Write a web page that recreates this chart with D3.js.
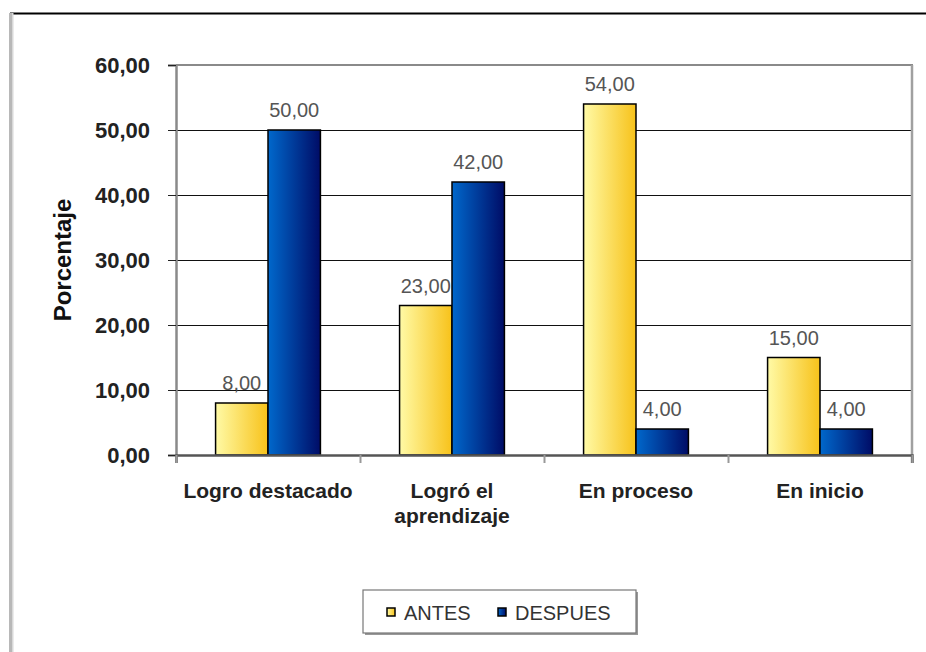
<!DOCTYPE html>
<html><head><meta charset="utf-8">
<script src="https://cdn.jsdelivr.net/npm/d3@7"></script>
<style>body{margin:0;background:#fff;}svg{display:block;font-family:Arial,"Liberation Sans",sans-serif;}</style>
</head><body>
<script>
const categories = [["Logro destacado"], ["Logró el", "aprendizaje"], ["En proceso"], ["En inicio"]];
const series = ["ANTES", "DESPUES"];
const antes = [8, 23, 54, 15];
const despues = [50, 42, 4, 4];
const yTicks = [0, 10, 20, 30, 40, 50, 60];
const yTitle = "Porcentaje";

const W = 926, H = 652;
const svg = d3.select("body").append("svg").attr("width", W).attr("height", H);
const defs = svg.append("defs");
function grad(id, c1, c2) {
  const g = defs.append("linearGradient").attr("id", id).attr("x1", "0%").attr("x2", "100%").attr("y1", "0%").attr("y2", "0%");
  g.append("stop").attr("offset", "0%").attr("stop-color", c1);
  g.append("stop").attr("offset", "100%").attr("stop-color", c2);
}
grad("gA", "#FFFAA6", "#F7C21A");
grad("gD", "#0068CC", "#000C66");
const fills = ["url(#gA)", "url(#gD)"];

// outer frame
svg.append("line").attr("x1", 10).attr("x2", W).attr("y1", 13.5).attr("y2", 13.5).attr("stroke", "#000").attr("stroke-width", 2);
svg.append("rect").attr("x", 9).attr("y", 13).attr("width", 4).attr("height", H - 13).attr("fill", "#b8b8b8");
svg.append("rect").attr("x", 12).attr("y", 13).attr("width", 1.5).attr("height", H - 13).attr("fill", "#d8d8d8");

const L = 176, R = 912, T = 65, B = 455;
const x0 = d3.scaleBand().domain(d3.range(categories.length)).range([L, R]).padding(0);
const x1 = d3.scaleBand().domain(series).range([0, x0.bandwidth()]).paddingInner(0).paddingOuter(0.755);
const y = d3.scaleLinear().domain([0, 60]).range([B, T]);

// gridlines
svg.append("g").selectAll("line").data(yTicks.filter(t => t > 0 && t < 60)).join("line")
  .attr("x1", L).attr("x2", R).attr("y1", d => y(d) + 0.5).attr("y2", d => y(d) + 0.5)
  .attr("stroke", "#111").attr("stroke-width", 1);
// plot border top & right
svg.append("line").attr("x1", L).attr("x2", R + 1).attr("y1", T).attr("y2", T).attr("stroke", "#8a8a8a").attr("stroke-width", 2);
svg.append("line").attr("x1", R).attr("x2", R).attr("y1", T).attr("y2", B + 8).attr("stroke", "#a0a0a0").attr("stroke-width", 2.5);

// bars
const data = categories.map((c, i) => ({i, vals: [antes[i], despues[i]]}));
const groups = svg.append("g").selectAll("g").data(data).join("g").attr("transform", d => `translate(${x0(d.i)},0)`);
groups.selectAll("rect").data(d => d.vals.map((v, k) => ({v, k}))).join("rect")
  .attr("x", d => x1(series[d.k])).attr("width", x1.bandwidth())
  .attr("y", d => y(d.v)).attr("height", d => B - y(d.v))
  .attr("fill", d => fills[d.k]).attr("stroke", "#000").attr("stroke-width", 1.5);
groups.selectAll("text").data(d => d.vals.map((v, k) => ({v, k}))).join("text")
  .attr("x", d => x1(series[d.k]) + x1.bandwidth() / 2).attr("y", d => y(d.v) - 13)
  .attr("text-anchor", "middle").attr("font-size", 20).attr("fill", "#555")
  .text(d => d3.format(".2f")(d.v).replace(".", ","));

// y axis
const yAxis = d3.axisLeft(y).tickValues(yTicks).tickSize(8).tickFormat(d => d3.format(".2f")(d).replace(".", ","));
const ya = svg.append("g").attr("transform", `translate(${L},0)`).call(yAxis);
ya.select(".domain").attr("stroke", "#8a8a8a").attr("stroke-width", 2.5);
ya.selectAll(".tick line").attr("stroke", "#222").attr("stroke-width", 1);
ya.selectAll(".tick text").attr("x", -26).attr("font-size", 22).attr("font-weight", "bold").attr("fill", "#222").attr("font-family", "Arial, 'Liberation Sans', sans-serif");

// x axis
const xAxis = d3.axisBottom(d3.scaleLinear().domain([0, 4]).range([L, R])).ticks(4).tickSize(8).tickFormat("");
const xa = svg.append("g").attr("transform", `translate(0,${B})`).call(xAxis);
xa.select(".domain").attr("stroke", "#555").attr("stroke-width", 2.5);
xa.selectAll(".tick line").attr("stroke", "#999").attr("stroke-width", 2);

// category labels
const cl = svg.append("g").selectAll("text").data(categories).join("text")
  .attr("x", (d, i) => x0(i) + x0.bandwidth() / 2).attr("y", 498)
  .attr("text-anchor", "middle").attr("font-size", 21).attr("font-weight", "bold").attr("fill", "#222");
cl.selectAll("tspan").data(d => d).join("tspan")
  .attr("x", function () { return this.parentNode.getAttribute("x"); })
  .attr("dy", (d, j) => j === 0 ? 0 : 25).text(d => d);

// y title
svg.append("text").attr("transform", "translate(71,260) rotate(-90)").attr("text-anchor", "middle")
  .attr("font-size", 24).attr("font-weight", "bold").attr("fill", "#111").text(yTitle);

// legend
const lg = svg.append("g");
lg.append("rect").attr("x", 365).attr("y", 592).attr("width", 273).attr("height", 43).attr("fill", "#999");
lg.append("rect").attr("x", 363).attr("y", 590).attr("width", 273).attr("height", 43).attr("fill", "#fff").attr("stroke", "#777").attr("stroke-width", 1.2);
const lx = [387, 498];
series.forEach((s, k) => {
  lg.append("rect").attr("x", lx[k]).attr("y", 608).attr("width", 8).attr("height", 8)
    .attr("fill", fills[k]).attr("stroke", "#000").attr("stroke-width", 1.5);
  lg.append("text").attr("x", lx[k] + 17).attr("y", 619.5).attr("font-size", 20).attr("fill", "#333").text(s);
});
</script>
</body></html>
